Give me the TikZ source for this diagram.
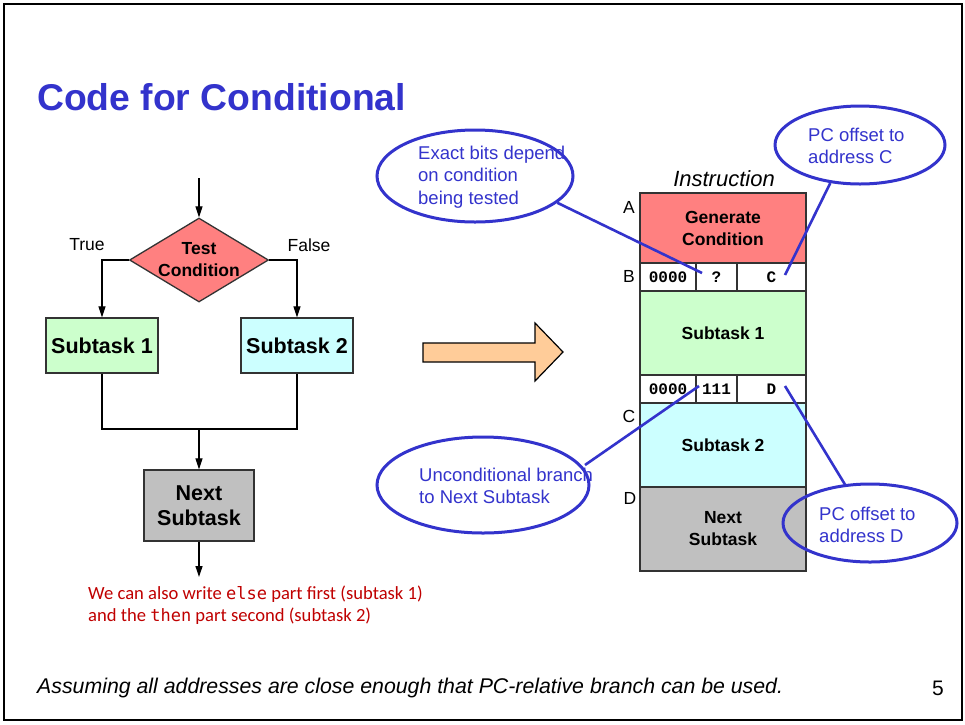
\documentclass[tikz,border=0pt]{standalone}
\usepackage{fontspec}
\setmainfont{Liberation Sans}
\newfontfamily\calibrifont{Carlito}
\newfontfamily\codefont{DejaVu Sans Mono}
\newfontfamily\bitfont{Liberation Mono}
\usetikzlibrary{shapes.geometric,arrows.meta}
\definecolor{tblue}{HTML}{3333CC}
\definecolor{salmon}{HTML}{FF8080}
\definecolor{lgreen}{HTML}{CCFFCC}
\definecolor{lcyan}{HTML}{CCFFFF}
\definecolor{lgrey}{HTML}{C0C0C0}
\definecolor{peach}{HTML}{FFCC99}
\definecolor{dred}{HTML}{C00000}
\definecolor{bordergrey}{HTML}{333333}
\tikzset{
  fbox/.style={draw=bordergrey,line width=1.3pt,inner sep=0pt,align=center,
    font=\fontsize{21.5}{24}\selectfont\bfseries},
  colbox/.style={draw=bordergrey,line width=1.3pt,inner sep=0pt,align=center,
    minimum width=166pt,font=\fontsize{17.5}{22}\selectfont\bfseries},
  bitcell/.style={draw=bordergrey,line width=1.3pt,inner sep=0pt,fill=white,
    minimum height=28pt,font=\fontsize{16}{18}\selectfont\bitfont\bfseries},
  flow/.style={line width=1.2pt},
  flowarr/.style={line width=1.2pt,-{Triangle[length=11pt,width=7pt]}},
  plain/.style={font=\fontsize{17.5}{20}\selectfont,inner sep=0pt},
  callout/.style={draw=tblue,line width=3pt,ellipse,inner sep=0pt},
  callouttext/.style={text=tblue,font=\fontsize{18.5}{22.5}\selectfont,align=left,inner sep=0pt,anchor=west},
  calloutline/.style={draw=tblue,line width=2.6pt},
  addr/.style={font=\fontsize{17.5}{20}\selectfont,inner sep=0pt}
}
\begin{document}
\begin{tikzpicture}[x=1pt,y=-1pt]
\useasboundingbox (0,0) rectangle (965,724);
\fill[white] (0,0) rectangle (965,724);
\draw[line width=2.2pt] (4,4) rectangle (962,720);

% title
\node[anchor=west,inner sep=0pt,text=tblue,font=\fontsize{37.3}{40}\selectfont\bfseries] (title) at (37,97) {Code for Conditional};

% flowchart
\coordinate (entry) at (199,178);
\node[diamond,draw=bordergrey,line width=1.3pt,fill=salmon,aspect=1,inner sep=0pt,
  minimum width=139pt,minimum height=84pt] (dia) at (199,260) {};
\node[align=center,inner sep=0pt,font=\fontsize{17.5}{22}\selectfont\bfseries] (diatext) at (199,260) {Test\\Condition};
\node[plain] (true) at (87,245) {True};
\node[plain] (false) at (309,245) {False};
\node[fbox,fill=lgreen,minimum width=112pt,minimum height=55pt] (s1) at (102,345.5) {Subtask 1};
\node[fbox,fill=lcyan,minimum width=112pt,minimum height=55pt] (s2) at (297,345.5) {Subtask 2};
\node[fbox,fill=lgrey,minimum width=110pt,minimum height=71pt,font=\fontsize{21.5}{24.5}\selectfont\bfseries] (nxt) at (199,505.5) {Next\\Subtask};
\coordinate (join) at (199,429);
\coordinate (exit) at (199,577);

\draw[flowarr] (entry) -- (dia.north);
\draw[flowarr] (dia.west) -| (s1.north);
\draw[flowarr] (dia.east) -| (s2.north);
\draw[flow] (s1.south) |- (join) -| (s2.south);
\draw[flowarr] (join) -- (nxt.north);
\draw[flowarr] (nxt.south) -- (exit);

\node[anchor=west,inner sep=0pt,align=left,text=dred,font=\fontsize{18.6}{22}\selectfont\calibrifont] (note) at (88,605)
  {We can also write {\codefont\fontsize{17}{22}\selectfont else} part first (subtask 1)\\and the {\codefont\fontsize{17}{22}\selectfont then} part second (subtask 2)};

% big arrow
\draw[line width=1.2pt,fill=peach,line join=miter] (423,343) -- (535,343) -- (535,323) -- (563,352) -- (535,381) -- (535,362) -- (423,362) -- cycle;

% instruction column
\node[font=\fontsize{22}{24}\selectfont\itshape,inner sep=0pt] (instr) at (724,179) {Instruction};
\node[colbox,fill=salmon,minimum height=70pt] (gen) at (723,228) {Generate\\Condition};
\node[bitcell,minimum width=56pt] (b1) at (668,277) {0000};
\node[bitcell,minimum width=41pt] (b2) at (716.5,277) {?};
\node[bitcell,minimum width=69pt] (b3) at (771.5,277) {C};
\node[colbox,fill=lgreen,minimum height=84pt] (cs1) at (723,333) {Subtask 1};
\node[bitcell,minimum width=56pt] (d1) at (668,389) {0000};
\node[bitcell,minimum width=41pt] (d2) at (716.5,389) {111};
\node[bitcell,minimum width=69pt] (d3) at (771.5,389) {D};
\node[colbox,fill=lcyan,minimum height=84pt] (cs2) at (723,445) {Subtask 2};
\node[colbox,fill=lgrey,minimum height=84pt] (cnx) at (723,529) {Next\\Subtask};

\node[addr] (la) at (629,207) {A};
\node[addr] (lb) at (629,276) {B};
\node[addr] (lc) at (629,416) {C};
\node[addr] (ld) at (630,498) {D};

% callouts
\node[callout,minimum width=196pt,minimum height=92pt] (e1) at (475,176) {};
\node[callouttext] (t1) at (418,177) {Exact bits depend\\on condition\\being tested};
\node[callout,minimum width=170pt,minimum height=78pt] (e2) at (860,145) {};
\node[callouttext] (t2) at (808,146) {PC offset to\\address C};
\node[callout,minimum width=212pt,minimum height=96pt] (e3) at (483,485) {};
\node[callouttext] (t3) at (419,486) {Unconditional branch\\to Next Subtask};
\node[callout,minimum width=174pt,minimum height=78pt] (e4) at (870,523) {};
\node[callouttext] (t4) at (819,525) {PC offset to\\address D};

\coordinate (p1) at (702,273);
\coordinate (p2) at (785,275);
\coordinate (p3) at (699,386);
\coordinate (p4) at (785,386);
\draw[calloutline] (e1.-18) -- (p1);
\draw[calloutline] (e2.-128) -- (p2);
\draw[calloutline] (585,465) coordinate (e3s) -- (p3);
\draw[calloutline] (e4.123) -- (p4);

% footer
\node[anchor=west,inner sep=0pt,font=\fontsize{21.3}{24}\selectfont\itshape] (foot) at (37,688) {Assuming all addresses are close enough that PC-relative branch can be used.};
\node[inner sep=0pt,font=\fontsize{21}{24}\selectfont] (pg) at (938,688) {5};
\end{tikzpicture}
\end{document}
